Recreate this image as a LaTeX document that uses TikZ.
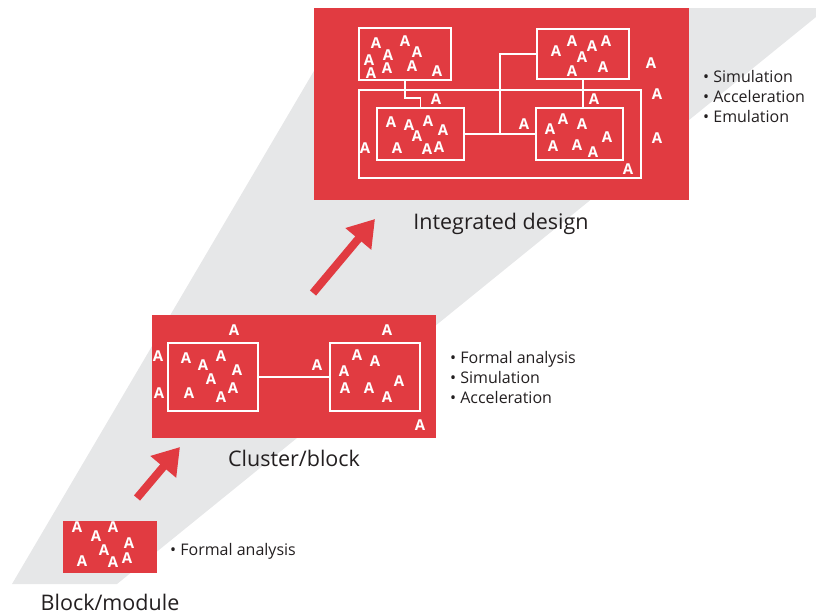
\documentclass[tikz,border=0pt]{standalone}
\usepackage{fontspec}
\setmainfont{Open Sans}
\usetikzlibrary{arrows.meta,positioning,calc}
\definecolor{redbox}{HTML}{E13B41}
\definecolor{band}{HTML}{E6E7E8}
\definecolor{ink}{HTML}{231F20}
\tikzset{
  redblock/.style={fill=redbox,draw=none,inner sep=0pt},
  inbox/.style={draw=white,line width=1.8pt,inner sep=0pt},
  wire/.style={draw=white,line width=1.8pt},
  letter/.style={text=white,font=\bfseries\fontsize{15}{15}\selectfont,inner sep=0pt},
  caption/.style={text=ink,font=\fontsize{21.5}{21.5}\selectfont,inner sep=0pt,anchor=base},
  bullets/.style={text=ink,font=\fontsize{16}{20}\selectfont,align=left,inner sep=0pt,anchor=base west},
  bigarrow/.style={draw=redbox,line width=8pt,-{Triangle[width=32pt,length=26pt]}}
}
\begin{document}
\begin{tikzpicture}[x=1pt,y=-1pt]
  \useasboundingbox (0,0) rectangle (816,614);
  % grey band behind the three levels
  \fill[band] (12,584) -- (117,584) -- (816,17) -- (816,8) -- (351,8) -- cycle;
  % the three red levels
  \node[redblock,minimum width=94pt,minimum height=52pt] (module) at (110,547) {};
  \node[redblock,minimum width=284pt,minimum height=123pt] (cluster) at (294,376.5) {};
  \node[redblock,minimum width=375pt,minimum height=192pt] (integ) at (501.5,104) {};
  % arrows between levels
  \coordinate (a1) at (137,498); \coordinate (b1) at (180,447);
  \coordinate (a2) at (313,293); \coordinate (b2) at (375,219);
  \draw[bigarrow] (a1) -- (b1);
  \draw[bigarrow] (a2) -- (b2);
  % block/module
  \foreach \x/\y [count=\i] in {77/527,113/527,96/536,104/550,129/543,82/561,113/562,127/558}
    \node[letter] (ma\i) at (\x,\y) {A};
  % cluster/block
  \node[inbox,minimum width=90pt,minimum height=68pt] (cl) at (213,377) {};
  \node[inbox,minimum width=90pt,minimum height=68pt] (cr) at (375,377) {};
  \draw[wire] (cl.east) -- (cr.west);
  \foreach \x/\y [count=\i] in {234/330,387/330,158/356,159/393,317/365,420/425,
      186/358,203/365,221/356,237/370,211/379,189/393,221/397,233/388,
      357/355,375/361,344/371,399/381,345/388,369/388,387/397}
    \node[letter] (ca\i) at (\x,\y) {A};
  % integrated design
  \draw[wire] (359,90) rectangle (641,178);
  \node[inbox,minimum width=92pt,minimum height=52pt] (tl) at (405,54) {};
  \node[inbox,minimum width=92pt,minimum height=50pt] (tr) at (583,54) {};
  \node[inbox,minimum width=87pt,minimum height=52pt] (bl) at (420.5,134) {};
  \node[inbox,minimum width=87pt,minimum height=52pt] (br) at (579.5,134) {};
  \coordinate (jn) at ($(bl.east)!0.5!(br.west)$);
  \draw[wire] (tl.south) -- ++(0,17) -| (bl.north);
  \draw[wire] (tr.south) -- (tr.south |- br.north);
  \draw[wire] (bl.east) -- (br.west);
  \draw[wire] (tr.west) -| (jn);
  \foreach \x/\y [count=\i] in {376/43,405/41,388/55,417/52,369/60,387/68,412/66,371/73,437/71,
      556/51,572/41,592/46,606/41,582/57,572/71,603/67,
      651/63,657/94,657/138,436/99,594/99,524/124,365/148,628/169,
      391/122,409/125,428/121,443/130,417/136,397/148,427/149,439/147,
      550/129,563/119,582/124,607/137,553/146,577/145,593/152}
    \node[letter] (ia\i) at (\x,\y) {A};
  % captions and lists (base = last line)
  \node[caption] (integname) at (501,229) {Integrated design};
  \node[caption] (clustername) at (294,466) {Cluster/block};
  \node[caption] (modulename) at (110,610) {Block/module};
  \node[bullets] (integlist) at (703,122) {\textbullet\ Simulation\\\textbullet\ Acceleration\\\textbullet\ Emulation};
  \node[bullets] (clusterlist) at (450,403) {\textbullet\ Formal analysis\\\textbullet\ Simulation\\\textbullet\ Acceleration};
  \node[bullets] (modulelist) at (170,555) {\textbullet\ Formal analysis};
\end{tikzpicture}
\end{document}
